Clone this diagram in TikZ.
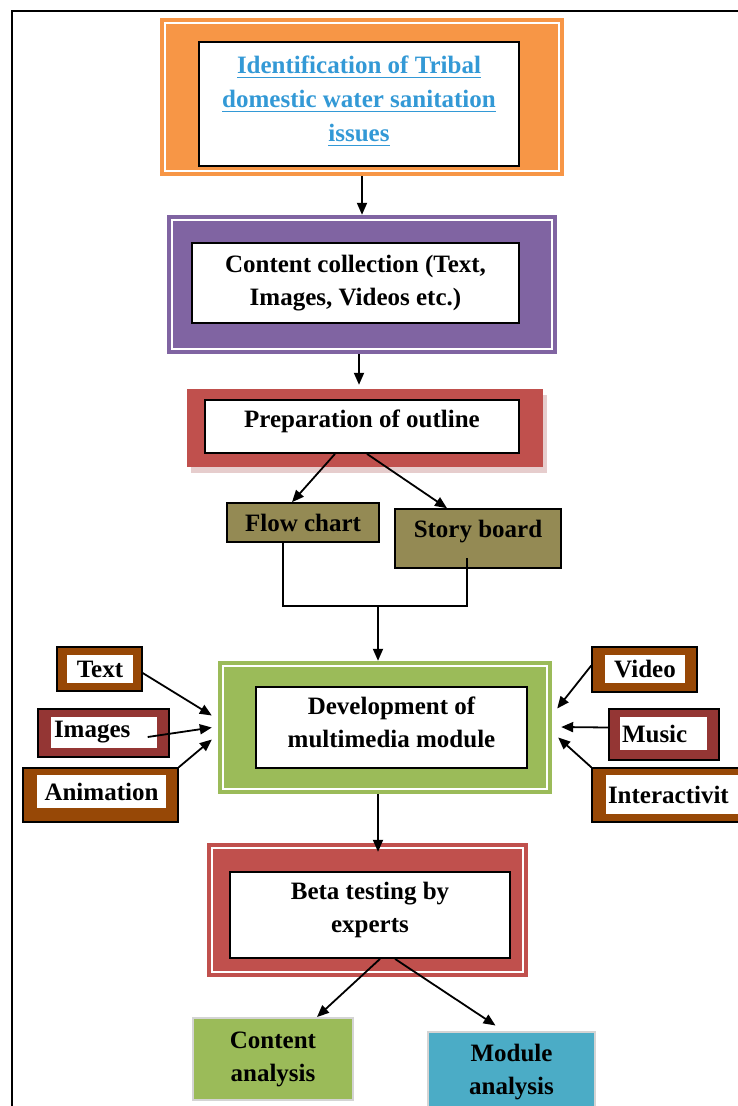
\documentclass[tikz,border=0pt]{standalone}
\usepackage{fontspec}
\setmainfont{Liberation Serif}
\usetikzlibrary{arrows.meta,calc}
\definecolor{corange}{HTML}{F79646}
\definecolor{cpurple}{HTML}{8064A2}
\definecolor{cred}{HTML}{C0504D}
\definecolor{cshadow}{RGB}{230,205,205}
\definecolor{colive}{HTML}{948A54}
\definecolor{cgreen}{HTML}{9BBB59}
\definecolor{cteal}{HTML}{4BACC6}
\definecolor{cbrown}{HTML}{974806}
\definecolor{cdred}{HTML}{943634}
\definecolor{cblue}{HTML}{3399D6}
\definecolor{cgrey}{RGB}{212,212,212}
\newcommand\ulin[1]{\setbox0\hbox{#1}\rlap{\rule[-5pt]{\wd0}{1.8pt}}\box0}
\begin{document}
\begin{tikzpicture}[x=1pt,y=-1pt,
  every node/.style={inner sep=0pt, font=\fontsize{25}{33}\selectfont\bfseries, align=center},
  outerbox/.style={fill=#1, draw=none},
  whitebox/.style={fill=white, draw=black, line width=1.8pt},
  plainbox/.style={fill=#1, draw=black, line width=1.6pt},
  framebox/.style={fill=#1, draw=black, line width=1.4pt},
  innerwhite/.style={fill=white, draw=none},
  arr/.style={line width=1.8pt, -{Triangle[length=12pt,width=10pt]}},
  conn/.style={line width=1.8pt},
  inset/.style={draw=white, line width=1.6pt}
]
\useasboundingbox (0,0) rectangle (737,1106);
% page frame
\draw[line width=2.5pt] (12,1110) -- (12,11) -- (740,11);

% Box 1
\node[outerbox=corange, minimum width=404pt, minimum height=158pt] (b1) at (362,97) {};
\draw[inset] ([shift={(5pt,-5pt)}]b1.north west) rectangle ([shift={(-5pt,5pt)}]b1.south east);
\node[whitebox, minimum width=320pt, minimum height=124pt, text=cblue, text depth=11pt,
      font=\fontsize{25}{34}\selectfont\bfseries] (b1i) at (359,104)
  {\ulin{Identification of Tribal}\\\ulin{domestic water sanitation}\\\ulin{issues}};

% Box 2
\node[outerbox=cpurple, minimum width=390pt, minimum height=139pt] (b2) at (362,284.5) {};
\draw[inset] ([shift={(5pt,-5pt)}]b2.north west) rectangle ([shift={(-5pt,5pt)}]b2.south east);
\node[whitebox, minimum width=327pt, minimum height=80pt] (b2i) at (355.5,283)
  {Content collection (Text,\\Images, Videos etc.)};

% Box 3
\node[outerbox=cshadow, minimum width=356pt, minimum height=78pt] (b3s) at (369,434) {};
\node[outerbox=cred, minimum width=356pt, minimum height=78pt] (b3) at (365,428) {};
\node[whitebox, minimum width=314pt, minimum height=53pt, text depth=16pt] (b3i) at (362,426.5)
  {Preparation of outline};

% Flow chart / Story board
\node[plainbox=colive, minimum width=152pt, minimum height=39pt] (fc) at (303,522.5) {Flow chart};
\node[plainbox=colive, minimum width=166pt, minimum height=59pt, text depth=20pt] (sb) at (478,538.5) {Story board};

% Development
\node[outerbox=cgreen, minimum width=334pt, minimum height=133pt] (dev) at (385,727.5) {};
\draw[inset] ([shift={(5pt,-5pt)}]dev.north west) rectangle ([shift={(-5pt,5pt)}]dev.south east);
\node[whitebox, minimum width=271pt, minimum height=81pt, text depth=11pt] (devi) at (391.5,727.5)
  {Development of\\multimedia module};

% Left small boxes
\node[framebox=cbrown, minimum width=85pt, minimum height=44pt] (txt) at (99.5,669) {};
\node[innerwhite, minimum width=66pt, minimum height=28pt] (txti) at (100,669) {Text};
\node[framebox=cdred, minimum width=131pt, minimum height=48pt] (img) at (103.5,733) {};
\node[innerwhite, minimum height=31pt, text width=100pt, inner xsep=3pt, align=left] (imgi) at (104,732.5) {Images};
\node[framebox=cbrown, minimum width=155pt, minimum height=54pt] (ani) at (100.5,795) {};
\node[innerwhite, minimum width=129pt, minimum height=33pt] (anii) at (101.5,791.5) {Animation};

% Right small boxes
\node[framebox=cbrown, minimum width=105pt, minimum height=45pt] (vid) at (644.5,669.5) {};
\node[innerwhite, minimum width=80pt, minimum height=28pt] (vidi) at (645,669) {Video};
\node[framebox=cdred, minimum width=110pt, minimum height=51pt] (mus) at (664,734.5) {};
\node[innerwhite, minimum height=33pt, text width=83pt, inner xsep=2pt, align=left] (musi) at (663.5,733.5) {Music};
\node[framebox=cbrown, minimum width=160pt, minimum height=54pt] (int) at (672,795) {};
\node[innerwhite, minimum height=39pt, text width=128pt, inner xsep=2pt, align=left] (inti) at (672,794.5) {Interactivit};

% Beta testing
\node[outerbox=cred, minimum width=321pt, minimum height=134pt] (beta) at (367.5,910) {};
\draw[inset] ([shift={(5pt,-5pt)}]beta.north west) rectangle ([shift={(-5pt,5pt)}]beta.south east);
\node[whitebox, minimum width=280pt, minimum height=86pt, text depth=16pt] (betai) at (370,915)
  {Beta testing by\\experts};

% Bottom boxes
\node[fill=cgreen, draw=cgrey, line width=2pt, minimum width=160pt, minimum height=82pt] (ca) at (273,1059) {Content\\analysis};
\node[fill=cteal, draw=cgrey, line width=2pt, minimum width=167pt, minimum height=82pt] (ma) at (511.5,1072.5) {Module\\analysis};

% Connectors
\draw[arr] (b1.south) -- (b2.north);
\draw[arr] ([xshift=-3pt]b2.south) -- ([xshift=-6pt,yshift=4pt]b3.north);
\draw[arr] ([xshift=-27pt]b3i.south) -- ([xshift=-11pt]fc.north);
\draw[arr] ([xshift=5pt]b3i.south) -- ([xshift=-31pt]sb.north);
\coordinate (j) at (378,606);
\draw[conn] ([xshift=-20pt]fc.south) |- (j) -| ([xshift=-11pt,yshift=11pt]sb.south);
\draw[arr] (j) -- (j |- dev.north);

\draw[arr] ([yshift=-4pt]txt.east) -- ([xshift=-6pt,yshift=12pt]dev.west);
\draw[arr] ([xshift=-22pt,yshift=-4pt]img.east) -- ([xshift=-6pt]dev.west);
\draw[arr] (ani.north east) -- ([xshift=-6pt,yshift=-12pt]dev.west);

\draw[arr] ([yshift=4pt]vid.west) -- ([xshift=5pt,yshift=19pt]dev.east);
\draw[arr] ([yshift=7pt]mus.west) -- ([xshift=9pt,yshift=0.5pt]dev.east);
\draw[arr] (int.north west) -- ([xshift=6pt,yshift=-10pt]dev.east);

\draw[arr] ([xshift=-7pt]dev.south) -- ([xshift=10.5pt,yshift=-9pt]beta.north);
\draw[arr] ([xshift=10pt]betai.south) -- ([xshift=44pt]ca.north);
\draw[arr] ([xshift=25pt]betai.south) -- ([xshift=-16pt,yshift=5pt]ma.north);
\end{tikzpicture}
\end{document}
